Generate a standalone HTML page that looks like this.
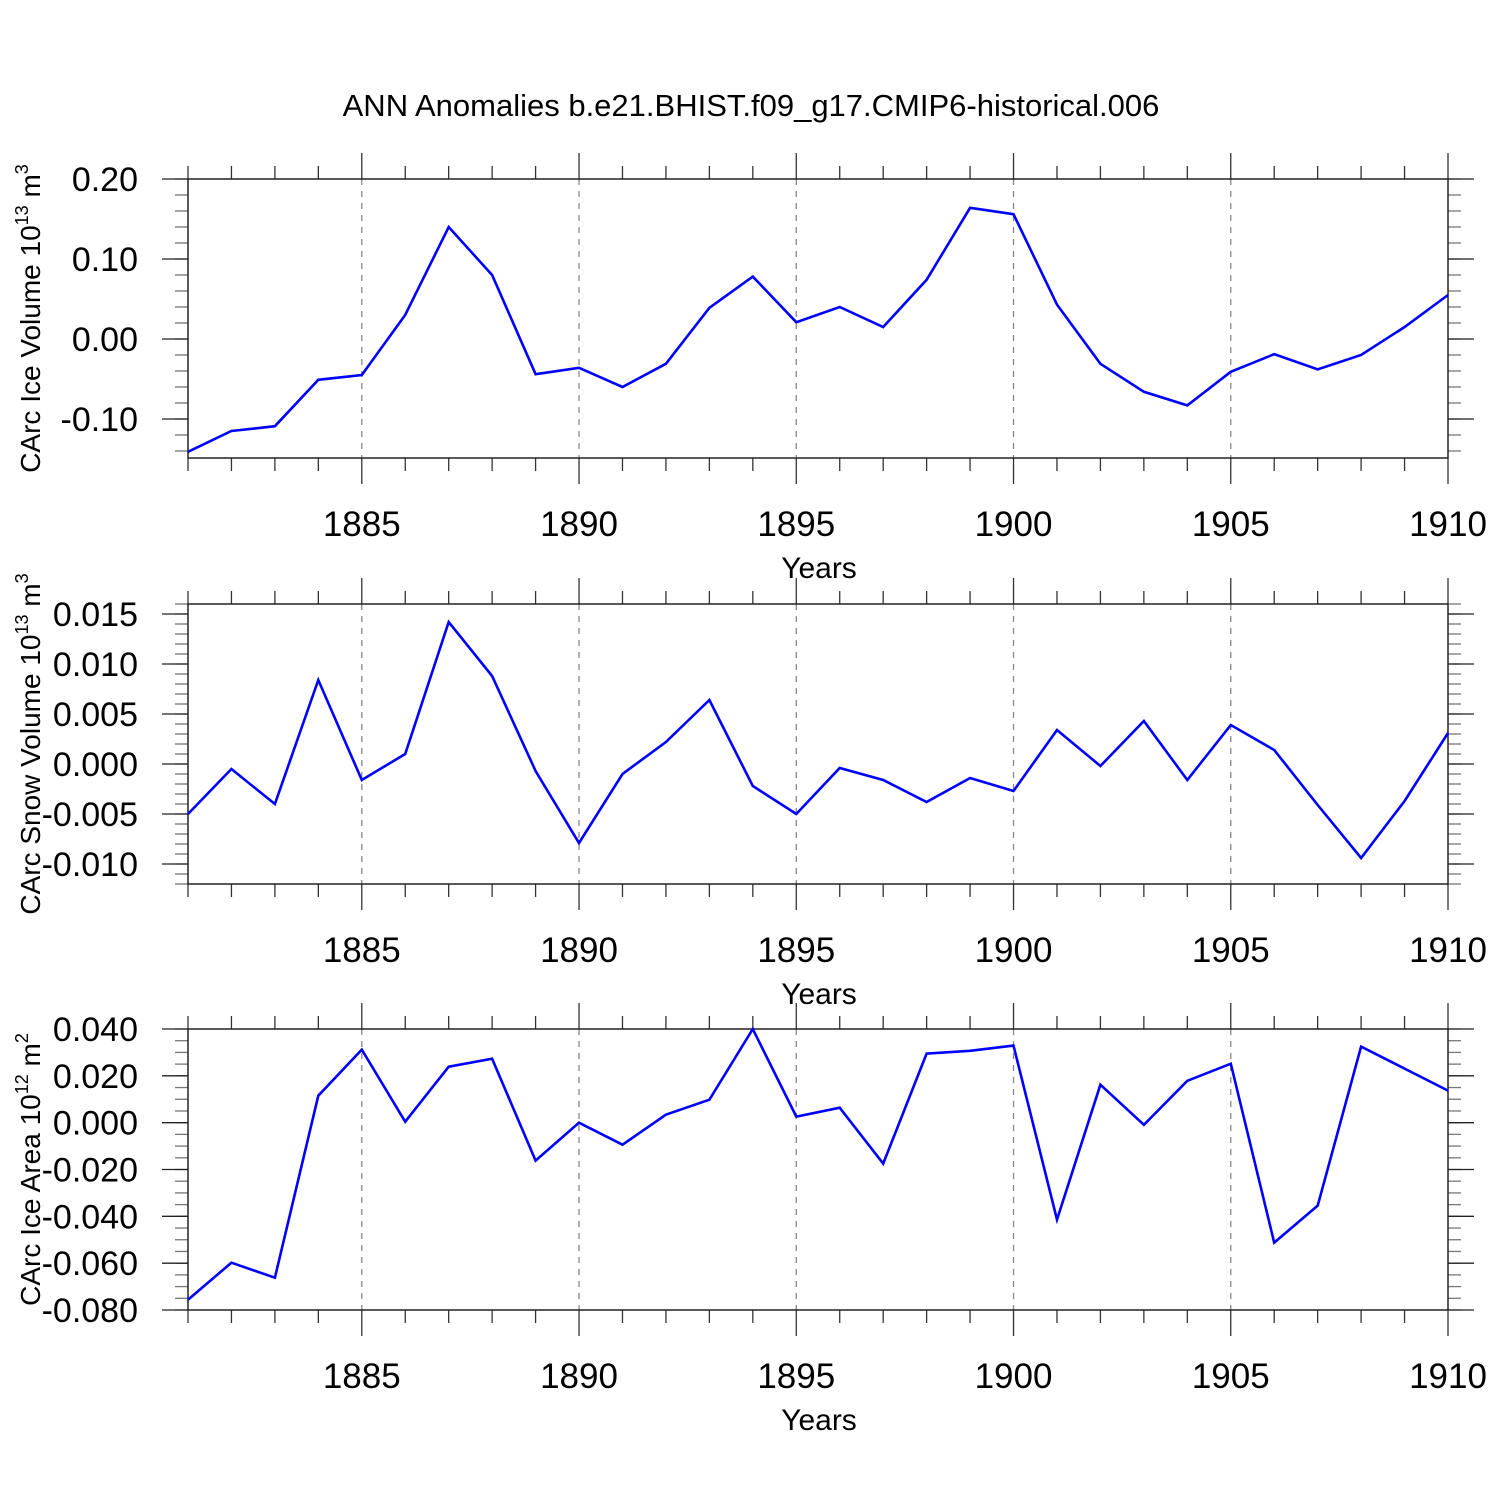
<!DOCTYPE html>
<html><head><meta charset="utf-8"><style>
html,body{margin:0;padding:0;background:#fff;}
svg{display:block;font-family:"Liberation Sans",sans-serif;}
</style></head><body>
<svg id="chart" width="1500" height="1500" viewBox="0 0 1500 1500">
<text x="751" y="116" font-size="31" text-anchor="middle">ANN Anomalies b.e21.BHIST.f09_g17.CMIP6-historical.006</text>
</svg>
<script>
const years = [1881,1882,1883,1884,1885,1886,1887,1888,1889,1890,1891,1892,1893,1894,1895,1896,1897,1898,1899,1900,1901,1902,1903,1904,1905,1906,1907,1908,1909,1910];
const iceVolume = [-0.141,-0.115,-0.109,-0.051,-0.045,0.030,0.140,0.080,-0.044,-0.036,-0.060,-0.031,0.039,0.078,0.021,0.040,0.015,0.074,0.164,0.156,0.043,-0.031,-0.066,-0.083,-0.041,-0.019,-0.038,-0.020,0.015,0.055];
const snowVolume = [-0.0050,-0.0005,-0.0040,0.0084,-0.0016,0.0010,0.0142,0.0088,-0.0007,-0.0079,-0.0010,0.0022,0.0064,-0.0022,-0.0050,-0.0004,-0.0016,-0.0038,-0.0014,-0.0027,0.0034,-0.0002,0.0043,-0.0016,0.0039,0.0014,-0.0041,-0.0094,-0.0037,0.0031];
const iceArea = [-0.0756,-0.0598,-0.0662,0.0115,0.0312,0.0004,0.0239,0.0273,-0.0162,0.0,-0.0094,0.0034,0.0098,0.0400,0.0026,0.0064,-0.0175,0.0295,0.0307,0.0329,-0.0414,0.0162,-0.0009,0.0179,0.0252,-0.0512,-0.0354,0.0325,0.0231,0.0137];
const xTickYears = [1885,1890,1895,1900,1905,1910];
const iceVolTicks = [0.20,0.10,0.00,-0.10];
const iceVolTickLabels = ["0.20","0.10","0.00","-0.10"];
const snowTicks = [0.015,0.010,0.005,0.000,-0.005,-0.010];
const snowTickLabels = ["0.015","0.010","0.005","0.000","-0.005","-0.010"];
const areaTicks = [0.04,0.02,0.0,-0.02,-0.04,-0.06,-0.08];
const areaTickLabels = ["0.040","0.020","0.000","-0.020","-0.040","-0.060","-0.080"];

const svg = document.getElementById('chart');
const NS = 'http://www.w3.org/2000/svg';
function mk(tag, attrs, parent){const e=document.createElementNS(NS,tag);for(const k in attrs)e.setAttribute(k,attrs[k]);(parent||svg).appendChild(e);return e;}
const X0=188, X1=1448;
const xs = y => X0 + (y-1881)*(X1-X0)/29;

function panel(opt){
  const g = mk('g',{});
  
  
  const T=opt.top, B=opt.bottom;
  const ys = v => T + (opt.ymax - v)*(B-T)/(opt.ymax-opt.ymin);
  xTickYears.forEach(yr=>{ if(yr<1910){ const l=mk('line',{x1:xs(yr),x2:xs(yr),y1:T,y2:B,stroke:'#888','stroke-width':1.3,'stroke-dasharray':'6,6'},g);
      }});
  years.forEach(yr=>{
    const major = xTickYears.includes(yr);
    const len = major?26:13;
    mk('line',{x1:xs(yr),x2:xs(yr),y1:T-len,y2:T,stroke:'#333','stroke-width':1.3},g);
    mk('line',{x1:xs(yr),x2:xs(yr),y1:B,y2:B+len,stroke:'#333','stroke-width':1.3},g);
  });
  xTickYears.forEach(yr=>{
    const t=mk('text',{x:xs(yr),y:B+78,'font-size':35,'text-anchor':'middle'},g); t.textContent=yr;
     
  });
  const n = Math.round((opt.ymax-opt.ymin)/opt.minor);
  for(let i=0;i<=n+1;i++){
    const v = opt.ymax - i*opt.minor;
    if(v < opt.ymin-1e-9) break;
    const yy=ys(v);
    mk('line',{x1:X0-13,x2:X0,y1:yy,y2:yy,stroke:'#777','stroke-width':1.3},g);
    mk('line',{x1:X1,x2:X1+13,y1:yy,y2:yy,stroke:'#777','stroke-width':1.3},g);
  }
  opt.ticks.forEach((v,i)=>{
    const yy=ys(v);
    mk('line',{x1:X0-26,x2:X0,y1:yy,y2:yy,stroke:'#222','stroke-width':1.3},g);
    mk('line',{x1:X1,x2:X1+26,y1:yy,y2:yy,stroke:'#222','stroke-width':1.3},g);
    const t=mk('text',{x:138,y:yy+12,'font-size':34,'text-anchor':'end'},g); t.textContent=opt.labels[i];
     
  });
  const fr=mk('rect',{x:X0,y:T,width:X1-X0,height:B-T,fill:'none',stroke:'#222','stroke-width':1.5},g);
   
  const pts = opt.data.map((v,i)=>xs(years[i]).toFixed(1)+','+ys(v).toFixed(1)).join(' ');
  const pl=mk('polyline',{points:pts,fill:'none',stroke:'#0000ff','stroke-width':2.6,'stroke-linejoin':'miter'},g);
   
  const xt=mk('text',{x:819,y:B+120,'font-size':30,'text-anchor':'middle'},g); xt.textContent='Years';
   
  const cy=(T+B)/2;
  const yt=mk('text',{x:0,y:0,'font-size':28,'text-anchor':'middle',transform:`translate(40,${cy}) rotate(-90)`},g);
   
  yt.appendChild(document.createTextNode(opt.ytitle+' 10'));
  const s1=mk('tspan',{'font-size':18,dy:-12},yt); s1.textContent=opt.exp;
  const s2=mk('tspan',{dy:12},yt); s2.textContent='  m';
  const s3=mk('tspan',{'font-size':18,dy:-12},yt); s3.textContent=opt.unit;
}
panel({name:'ice-volume-panel',top:179,bottom:458,ymax:0.20,ymin:-0.14875,minor:0.02,ticks:iceVolTicks,labels:iceVolTickLabels,data:iceVolume,ytitle:'CArc Ice Volume',exp:'13',unit:'3'});
panel({name:'snow-volume-panel',top:604,bottom:884,ymax:0.016,ymin:-0.012,minor:0.001,ticks:snowTicks,labels:snowTickLabels,data:snowVolume,ytitle:'CArc Snow Volume',exp:'13',unit:'3'});
panel({name:'ice-area-panel',top:1029,bottom:1310,ymax:0.04,ymin:-0.08,minor:0.005,ticks:areaTicks,labels:areaTickLabels,data:iceArea,ytitle:'CArc Ice Area',exp:'12',unit:'2'});
</script>
</body></html>
